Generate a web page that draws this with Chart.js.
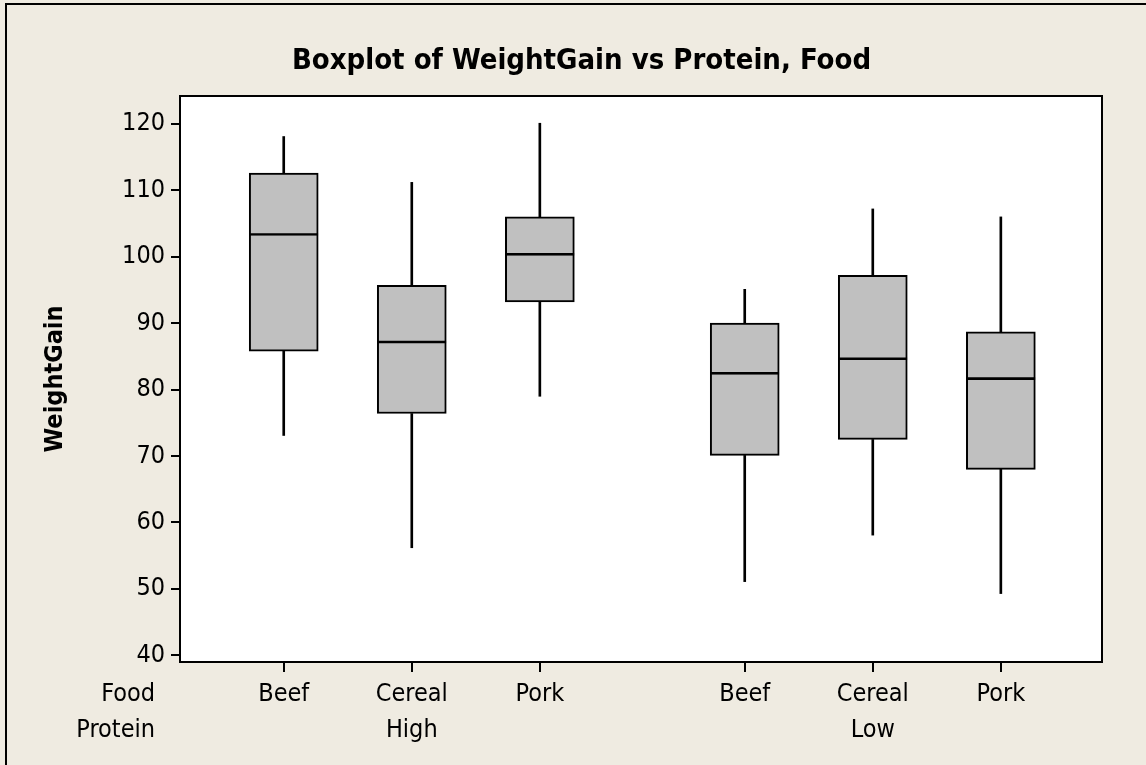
<!DOCTYPE html>
<html>
<head>
<meta charset="utf-8">
<title>Boxplot of WeightGain vs Protein, Food</title>
<script src="https://cdn.jsdelivr.net/npm/chart.js@4.4.1/dist/chart.umd.min.js"></script>
<style>
  html, body { margin: 0; padding: 0; background: #efebe1; overflow: hidden; }
  #wrap { width: 1146px; height: 765px; position: relative; }
</style>
</head>
<body>
<div id="wrap"><canvas id="myChart"></canvas></div>
<script>
// values (whisker ends, quartiles, median)
const food = ["Beef", "Cereal", "Pork", "Beef", "Cereal", "Pork"];
const protein = ["High", "High", "High", "Low", "Low", "Low"];
const whiskerLow = [73.1, 56.2, 79.0, 51.1, 58.1, 49.3];
const q1 = [85.8, 76.4, 93.2, 70.1, 72.5, 68.0];
const median = [103.2, 87.0, 100.2, 82.3, 84.5, 81.5];
const q3 = [112.6, 95.7, 106.0, 90.0, 97.2, 88.7];
const whiskerHigh = [118.1, 111.2, 120.1, 95.1, 107.2, 106.0];
const yTicks = [40, 50, 60, 70, 80, 90, 100, 110, 120];

const FONT = "'DejaVu Sans Condensed', 'Liberation Sans', sans-serif";
const BG = "#efebe1";
const BOX = "#c0c0c0";
const X_PAD = 4; // gap between x tick marks and labels

// one unit between boxes, a bit more between the protein groups
const groups = [...new Set(protein)];
const xPos = protein.map((p, i) => i + 1 + groups.indexOf(p) * 0.6);

// food under every box, protein level under the middle box of its group
const xLabels = food.map((f, i) => {
  const members = protein.map((p, j) => p === protein[i] ? j : -1).filter(j => j >= 0);
  return members[Math.floor(members.length / 2)] === i ? [f, protein[i]] : f;
});

function pts(lo, hi) {
  return xPos.map((x, i) => ({ x: x, y: [lo[i], hi[i]] }));
}

const framePlugin = {
  id: "frame",
  beforeDraw(chart) {
    const ctx = chart.ctx;
    const a = chart.chartArea;
    ctx.save();
    ctx.fillStyle = BG;
    ctx.fillRect(0, 0, chart.width, chart.height);
    ctx.fillStyle = "#000";
    ctx.fillRect(5, 3, 2, chart.height);
    ctx.fillRect(5, 3, chart.width, 2);
    ctx.fillStyle = "#fff";
    ctx.fillRect(a.left, a.top, a.right - a.left, a.bottom - a.top);
    ctx.restore();
  },
  afterDatasetsDraw(chart) {
    const ctx = chart.ctx;
    const a = chart.chartArea;
    ctx.save();
    ctx.strokeStyle = "#000";
    ctx.lineWidth = 2;
    ctx.strokeRect(a.left, a.top, a.right - a.left, a.bottom - a.top);
    ctx.restore();
  },
  afterDraw(chart) {
    // row names left of the x axis labels
    const ctx = chart.ctx;
    const xs = chart.scales.x;
    const lh = 25 * 1.45;
    ctx.save();
    ctx.font = "25px " + FONT;
    ctx.fillStyle = "#000";
    ctx.textAlign = "right";
    ctx.textBaseline = "middle";
    const y0 = xs.top + 10 + X_PAD + lh / 2;
    ctx.fillText("Food", chart.chartArea.left - 25, y0);
    ctx.fillText("Protein", chart.chartArea.left - 25, y0 + lh);
    ctx.restore();
  }
};

const ctx = document.getElementById("myChart").getContext("2d");
const chart = new Chart(ctx, {
  type: "bar",
  data: {
    datasets: [
      {
        label: "median",
        data: pts(median, q3),
        backgroundColor: "rgba(0,0,0,0)",
        borderColor: "#000",
        borderWidth: { top: 0, right: 0, bottom: 2, left: 0 },
        borderSkipped: false,
        barThickness: 69,
        grouped: false,
        order: 1,
      },
      {
        label: "box",
        data: pts(q1, q3),
        backgroundColor: BOX,
        borderColor: "#000",
        borderWidth: 2,
        borderSkipped: false,
        barThickness: 69,
        grouped: false,
        order: 2,
      },
      {
        label: "lower whisker",
        data: pts(whiskerLow, q1),
        backgroundColor: "#000",
        borderWidth: 0,
        barThickness: 2,
        grouped: false,
        order: 3,
      },
      {
        label: "upper whisker",
        data: pts(q3, whiskerHigh),
        backgroundColor: "#000",
        borderWidth: 0,
        barThickness: 2,
        grouped: false,
        order: 3,
      },
    ],
  },
  options: {
    responsive: true,
    maintainAspectRatio: false,
    animation: false,
    layout: { padding: { left: 61, right: 44, top: 0, bottom: 0 } },
    plugins: {
      legend: { display: false },
      tooltip: { enabled: false },
      title: {
        display: true,
        text: "Boxplot of WeightGain vs Protein, Food",
        color: "#000",
        font: { family: FONT, size: 29, weight: "bold", lineHeight: 1.2 },
        padding: { top: 43.6, bottom: 17.6 },
      },
    },
    scales: {
      x: {
        type: "linear",
        min: 0.19,
        max: 7.39,
        bounds: "data",
        offset: false,
        afterBuildTicks: (s) => { s.ticks = xPos.map((v) => ({ value: v })); },
        afterFit: (s) => { s.height = 103; },
        ticks: {
          callback: (v, i) => xLabels[i],
          color: "#000",
          font: { family: FONT, size: 25, lineHeight: 1.45 },
          padding: X_PAD,
          maxRotation: 0,
          autoSkip: false,
        },
        grid: { offset: false, drawOnChartArea: false, color: "#000", lineWidth: 2, tickLength: 10 },
        border: { display: false },
      },
      y: {
        min: 39,
        max: 124.2,
        bounds: "data",
        afterBuildTicks: (s) => { s.ticks = yTicks.map((v) => ({ value: v })); },
        afterFit: (s) => { s.width = 119; },
        ticks: {
          color: "#000",
          font: { family: FONT, size: 25 },
          padding: 6,
        },
        grid: { drawOnChartArea: false, color: "#000", lineWidth: 2, tickLength: 9 },
        border: { display: false },
        title: {
          display: true,
          text: "WeightGain",
          color: "#000",
          font: { family: FONT, size: 25, weight: "bold", lineHeight: 1.2 },
          padding: { top: -21, bottom: 0 },
        },
      },
    },
  },
  plugins: [framePlugin],
});
</script>
</body>
</html>
